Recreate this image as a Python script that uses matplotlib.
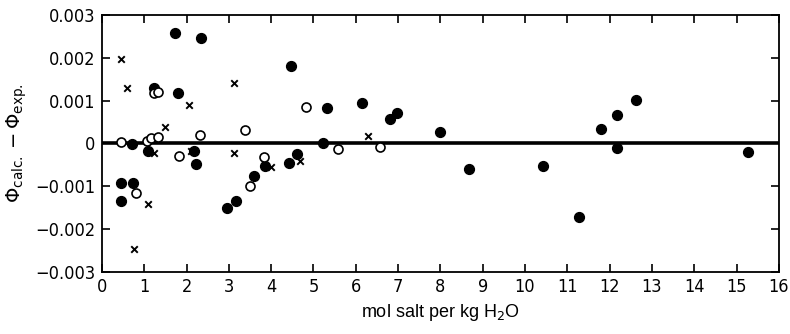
import matplotlib
matplotlib.use('Agg')
import matplotlib.pyplot as plt

# filled circles
filled_x = [0.45, 0.45, 0.71, 0.74, 1.08, 1.23, 1.73, 1.79, 2.18, 2.23, 2.34, 2.96,
            3.17, 3.60, 3.86, 4.43, 4.46, 4.62, 5.22, 5.31, 6.14, 6.81, 6.98, 7.99,
            8.68, 10.43, 11.28, 11.79, 12.18, 12.18, 12.62, 15.28]
filled_y = [-0.00094, -0.00134, -0.00002, -0.00092, -0.00018, 0.00130, 0.00259, 0.00118,
            -0.00018, -0.00049, 0.00246, -0.00151, -0.00134, -0.00077, -0.00053, -0.00047,
            0.00180, -0.00026, 0.00000, 0.00083, 0.00094, 0.00056, 0.00072, 0.00026,
            -0.00061, -0.00053, -0.00173, 0.00033, 0.00065, -0.00012, 0.00101, -0.00020]

# open circles
open_x = [0.45, 0.81, 1.06, 1.16, 1.32, 1.22, 1.33, 1.82, 2.32, 3.39, 3.50, 3.84,
          4.82, 5.57, 6.57]
open_y = [0.00003, -0.00116, 0.00006, 0.00012, 0.00014, 0.00117, 0.00121, -0.00029,
          0.00020, 0.00031, -0.00099, -0.00031, 0.00084, -0.00013, -0.00009]

# crosses
cross_x = [0.45, 0.60, 0.76, 1.08, 1.22, 1.50, 2.06, 2.10, 3.11, 3.12, 4.00, 4.67, 6.30]
cross_y = [0.00198, 0.00130, -0.00248, -0.00141, -0.00023, 0.00037, 0.00090, -0.00018,
           -0.00023, 0.00140, -0.00056, -0.00041, 0.00017]

xticks = list(range(0, 17))
yticks = [-0.003, -0.002, -0.001, 0, 0.001, 0.002, 0.003]
ytick_labels = ['\u22120.003', '\u22120.002', '\u22120.001', '0', '0.001', '0.002', '0.003']

fig = plt.figure(figsize=(7.9, 3.34), dpi=100)
ax = fig.add_axes([0.129, 0.187, 0.857, 0.768])

ax.axhline(0, color='black', lw=2.6, zorder=1)
ax.scatter(filled_x, filled_y, s=50, c='black', edgecolors='black', zorder=3)
ax.scatter(open_x, open_y, s=42, facecolors='white', edgecolors='black', linewidths=1.2, zorder=3)
ax.scatter(cross_x, cross_y, s=22, marker='x', c='black', linewidths=1.4, zorder=4)

ax.set_xlim(0, 16)
ax.set_ylim(-0.003, 0.003)
ax.set_xticks(xticks)
ax.set_yticks(yticks)
ax.set_yticklabels(ytick_labels)
ax.tick_params(direction='in', top=True, right=True, length=6, width=1.2,
               labelsize=13, pad=5)
for lab in ax.get_xticklabels() + ax.get_yticklabels():
    lab.set_fontstretch('condensed')
for sp in ax.spines.values():
    sp.set_linewidth(1.3)

ax.set_xlabel('mol salt per kg H$_2$O', fontsize=13, family='Liberation Sans', labelpad=4)
ax.set_ylabel(r'$\Phi_{\rm calc.} - \Phi_{\rm exp.}$', fontsize=14, labelpad=4)

fig.savefig('out.png', dpi=100)
